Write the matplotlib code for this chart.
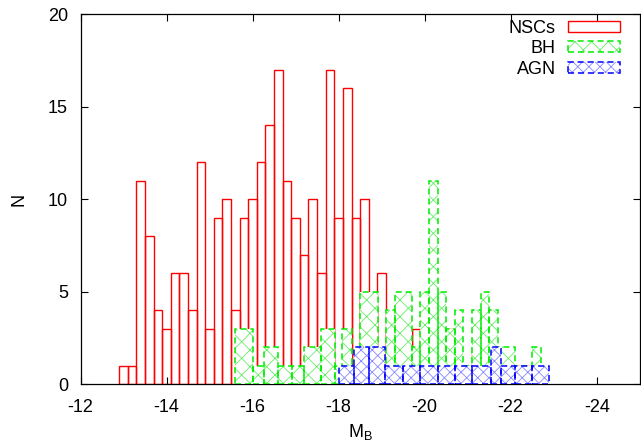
import matplotlib
matplotlib.use("Agg")
import matplotlib.pyplot as plt
from matplotlib.patches import Patch
import numpy as np

plt.rcParams['font.family'] = ['Liberation Sans', 'DejaVu Sans']
plt.rcParams['axes.unicode_minus'] = False
plt.rcParams['mathtext.default'] = 'regular'
plt.rcParams['hatch.linewidth'] = 0.6

# NSCs histogram: bin centres (width 0.2 mag) and counts
nsc_centres = np.round(np.arange(-13.0, -22.41, -0.2), 1)
nsc_counts = [1, 1, 11, 8, 4, 3, 6, 6, 4, 12,
              3, 9, 10, 4, 9, 10, 12, 14, 17, 11,
              9, 7, 10, 6, 17, 9, 16, 9, 10, 4,
              6, 3, 3, 3, 3, 2, 2, 2, 3, 1,
              1, 2, 1, 1, 1, 1, 1, 1]

# BH histogram: box edges (gnuplot boxes, uneven) and counts
bh_edges = [-15.58, -16.0, -16.27, -16.6, -16.92, -17.2, -17.58, -17.92,
            -18.08, -18.31, -18.5, -18.91, -19.1, -19.3, -19.7, -19.9,
            -20.1, -20.3, -20.5, -20.7, -20.9, -21.1, -21.3, -21.5,
            -21.7, -22.1, -22.5, -22.7]
bh_counts = [3, 1, 2, 1, 1, 2, 3, 1, 3, 1, 5, 1, 4, 5, 2,
             5, 11, 5, 3, 4, 1, 4, 5, 4, 2, 1, 2]

# AGN histogram
agn_edges = [-18.0, -18.35, -18.7, -19.08, -19.5, -19.9, -20.3, -20.7,
             -21.1, -21.54, -21.78, -22.1, -22.5, -22.9]
agn_counts = [1, 2, 2, 1, 1, 1, 1, 1, 1, 2, 1, 1, 1]

fig = plt.figure(figsize=(6.41, 4.45), dpi=100)
ax = fig.add_axes([0.1256, 0.137, 0.8724, 0.8315])


def boxes(edges, counts, hatch, light, dark, z):
    edges = np.array(edges)
    left = edges[:-1]
    w = np.diff(edges)
    ax.bar(left, counts, width=w, align='edge', facecolor='white',
           edgecolor=light, linewidth=0, hatch=hatch, zorder=z)
    ax.bar(left, counts, width=w, align='edge', fill=False,
           edgecolor=dark, linewidth=1.1, linestyle=(0, (4, 2.5)), zorder=z + 0.1)


ax.bar(nsc_centres, nsc_counts, width=0.2, facecolor='none',
       edgecolor='#ff0000', linewidth=1.0, zorder=2)
boxes(bh_edges, bh_counts, 'xx', '#66ee66', '#00ee00', 3)
boxes(agn_edges, agn_counts, 'xxx', '#8888ff', '#0000ff', 4)

ax.set_xlim(-12, -25)
ax.set_ylim(0, 20)
ax.set_xticks(np.arange(-12, -25, -2))
ax.set_yticks([0, 5, 10, 15, 20])
ax.tick_params(direction='in', length=5, width=0.8, top=True, right=True,
               labelsize=13)
ax.tick_params(axis='x', pad=11)
ax.tick_params(axis='y', pad=9)
for s in ax.spines.values():
    s.set_linewidth(0.9)
ax.set_xlabel('M$_B$', fontsize=13, labelpad=4)
ax.set_ylabel('N', fontsize=13, labelpad=15)

h_nsc = Patch(facecolor='white', edgecolor='#ff0000', linewidth=1.0)
h_bh = (Patch(facecolor='white', edgecolor='#66ee66', linewidth=0, hatch='xx'),
        Patch(fill=False, edgecolor='#00ee00', linewidth=1.1, linestyle=(0, (4, 2.5))))
h_agn = (Patch(facecolor='white', edgecolor='#8888ff', linewidth=0, hatch='xxx'),
         Patch(fill=False, edgecolor='#0000ff', linewidth=1.1, linestyle=(0, (4, 2.5))))
ax.legend([h_nsc, h_bh, h_agn], ['NSCs', 'BH', 'AGN'], loc='upper right',
          bbox_to_anchor=(620 / 641, 1 - 20 / 445), bbox_transform=fig.transFigure,
          frameon=False, markerfirst=False, fontsize=13, handlelength=2.9,
          handleheight=0.55, handletextpad=0.65, labelspacing=0.18, borderpad=0,
          borderaxespad=0)

fig.savefig('out.png', dpi=100)
